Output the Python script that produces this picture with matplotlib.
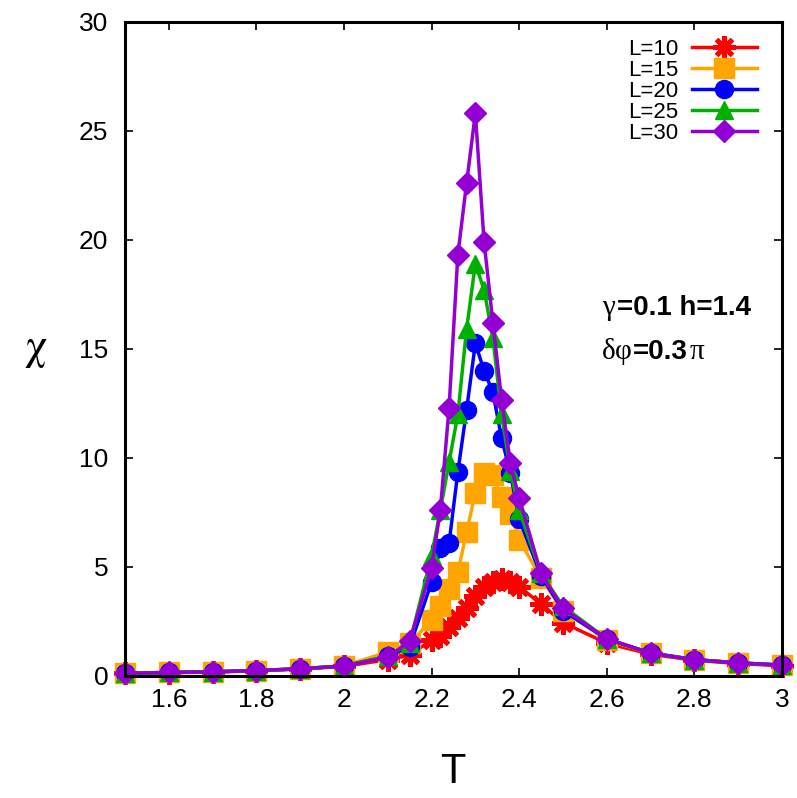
import numpy as np
import matplotlib
matplotlib.use('Agg')
import matplotlib.pyplot as plt
from matplotlib.ticker import MultipleLocator, FuncFormatter

plt.rcParams['font.family'] = ['Liberation Sans', 'DejaVu Sans']
plt.rcParams['mathtext.fontset'] = 'stix'

# temperature grid and susceptibility for each system size
T = [1.5, 1.6, 1.7, 1.8, 1.9, 2.0, 2.1, 2.15, 2.2, 2.22, 2.24, 2.26, 2.28, 2.3,
     2.32, 2.34, 2.36, 2.38, 2.4, 2.45, 2.5, 2.6, 2.7, 2.8, 2.9, 3.0]
chi_L10 = [0.12, 0.15, 0.18, 0.24, 0.32, 0.44, 0.75, 0.95, 1.66, 1.85, 2.25, 2.65, 3.1,
           3.65, 4.1, 4.33, 4.45, 4.33, 4.1, 3.3, 2.45, 1.5, 1.0, 0.72, 0.57, 0.47]
chi_L15 = [0.13, 0.16, 0.19, 0.25, 0.33, 0.46, 1.1, 1.5, 2.55, 3.2, 4.0, 4.75, 6.6,
           8.4, 9.3, 9.2, 8.2, 7.45, 6.25, 4.5, 3.0, 1.65, 1.05, 0.75, 0.6, 0.5]
chi_L20 = [0.13, 0.16, 0.19, 0.25, 0.33, 0.46, 0.9, 1.35, 4.3, 5.85, 6.1, 9.35, 12.2,
           15.25, 14.0, 13.0, 10.9, 9.3, 7.2, 4.6, 3.0, 1.7, 1.05, 0.75, 0.6, 0.5]
chi_L25 = [0.13, 0.16, 0.19, 0.25, 0.33, 0.46, 0.9, 1.5, 5.5, 7.6, 9.8, 12.0, 15.9,
           18.9, 17.7, 15.5, 12.0, 9.4, 7.6, 4.7, 3.2, 1.7, 1.05, 0.75, 0.6, 0.5]
chi_L30 = [0.13, 0.16, 0.19, 0.25, 0.33, 0.46, 0.85, 1.6, 4.95, 7.6, 12.3, 19.3, 22.6,
           25.8, 19.9, 16.2, 12.65, 9.75, 8.15, 4.7, 3.1, 1.7, 1.05, 0.75, 0.6, 0.5]
labels = ['L=10', 'L=15', 'L=20', 'L=25', 'L=30']

series = [chi_L10, chi_L15, chi_L20, chi_L25, chi_L30]
colors = ['#ff0000', '#ffa500', '#0000ff', '#00b000', '#9400d3']
markers = [(8, 2, 0), 's', 'o', '^', 'D']
msizes = [16, 14, 13, 13, 11]

W, H = 797, 798
fig = plt.figure(figsize=(W / 100, H / 100), dpi=100)
ax = fig.add_axes([0.1568, 0.1529, 0.8243, 0.8199])

for y, c, m, ms, lab in zip(series, colors, markers, msizes, labels):
    mew = 3.5 if m == (8, 2, 0) else 1
    ax.plot(T, y, color=c, lw=2.5, marker=m, ms=ms, mec=c, mfc=c, mew=mew,
            label=lab, clip_on=False, zorder=3)

ax.set_xlim(1.5, 3.0)
ax.set_ylim(0, 30)
ax.xaxis.set_major_locator(MultipleLocator(0.2))
ax.yaxis.set_major_locator(MultipleLocator(5))
ax.xaxis.set_major_formatter(FuncFormatter(lambda v, p: '%g' % round(v, 2)))
ax.tick_params(direction='in', top=True, right=True, length=6, width=1.2,
               labelsize=19)
ax.tick_params(axis='x', pad=9)
ax.tick_params(axis='y', pad=12)
for s in ax.spines.values():
    s.set_linewidth(2.2)
    s.set_zorder(5)

leg = ax.legend(loc='upper right', bbox_to_anchor=(0.985, 0.997), frameon=False,
                markerfirst=False, fontsize=16, handlelength=2.9, handletextpad=0.6,
                labelspacing=0.0, borderpad=0.2)

# annotation: greek letters in serif, rest in bold sans
serif = ['Liberation Serif', 'DejaVu Serif']
def put(xpx, ypx, s, **kw):
    fig.text(xpx / W, 1 - ypx / H, s, va='center', ha='left', **kw)

put(602, 308, 'γ', fontsize=21, family=serif)
put(617, 308, '=0.1 h=1.4', fontsize=20, fontweight='bold')
put(602, 352, 'δ', fontsize=21, family=serif)
put(615, 352, 'φ', fontsize=21, family=serif)
put(633, 352, '=0.3', fontsize=20, fontweight='bold')
put(690, 352, 'π', fontsize=21, family=serif)

fig.text(453 / W, 1 - 772 / H, 'T', fontsize=30, ha='center', va='center')
fig.text(36 / W, 1 - 350 / H, r'$\mathrm{\chi}$', fontsize=32, ha='center', va='center')

fig.savefig('out.png', dpi=100)
